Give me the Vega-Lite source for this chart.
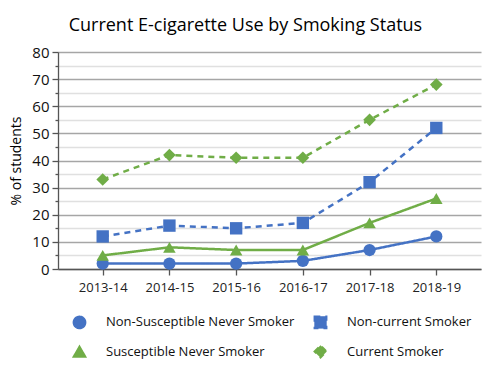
{
  "$schema": "https://vega.github.io/schema/vega-lite/v6.json",
  "autosize": "none",
  "width": 423,
  "height": 217,
  "padding": {"left": 58, "top": 52, "right": 19, "bottom": 99},
  "background": "white",
  "config": {
    "font": "Open Sans",
    "view": {"stroke": null}
  },
  "title": {
    "text": "Current E-cigarette Use by Smoking Status",
    "fontSize": 18,
    "fontWeight": "normal",
    "color": "#000000",
    "font": "Open Sans",
    "anchor": "middle",
    "frame": "bounds",
    "offset": 10
  },
  "data": {
    "values": [
      {"year": "2013-14", "status": "Non-Susceptible Never Smoker", "pct": 2},
      {"year": "2014-15", "status": "Non-Susceptible Never Smoker", "pct": 2},
      {"year": "2015-16", "status": "Non-Susceptible Never Smoker", "pct": 2},
      {"year": "2016-17", "status": "Non-Susceptible Never Smoker", "pct": 3},
      {"year": "2017-18", "status": "Non-Susceptible Never Smoker", "pct": 7},
      {"year": "2018-19", "status": "Non-Susceptible Never Smoker", "pct": 12},
      {"year": "2013-14", "status": "Non-current Smoker", "pct": 12},
      {"year": "2014-15", "status": "Non-current Smoker", "pct": 16},
      {"year": "2015-16", "status": "Non-current Smoker", "pct": 15},
      {"year": "2016-17", "status": "Non-current Smoker", "pct": 17},
      {"year": "2017-18", "status": "Non-current Smoker", "pct": 32},
      {"year": "2018-19", "status": "Non-current Smoker", "pct": 52},
      {"year": "2013-14", "status": "Susceptible Never Smoker", "pct": 5},
      {"year": "2014-15", "status": "Susceptible Never Smoker", "pct": 8},
      {"year": "2015-16", "status": "Susceptible Never Smoker", "pct": 7},
      {"year": "2016-17", "status": "Susceptible Never Smoker", "pct": 7},
      {"year": "2017-18", "status": "Susceptible Never Smoker", "pct": 17},
      {"year": "2018-19", "status": "Susceptible Never Smoker", "pct": 26},
      {"year": "2013-14", "status": "Current Smoker", "pct": 33},
      {"year": "2014-15", "status": "Current Smoker", "pct": 42},
      {"year": "2015-16", "status": "Current Smoker", "pct": 41},
      {"year": "2016-17", "status": "Current Smoker", "pct": 41},
      {"year": "2017-18", "status": "Current Smoker", "pct": 55},
      {"year": "2018-19", "status": "Current Smoker", "pct": 68}
    ]
  },
  "encoding": {
    "x": {
      "field": "year",
      "type": "ordinal",
      "scale": {"type": "point", "padding": 0.67},
      "axis": {
        "title": null,
        "labelAngle": 0,
        "labelFontSize": 13,
        "labelColor": "#222222",
        "labelPadding": 6,
        "domainColor": "#555555",
        "domainWidth": 1.3,
        "tickColor": "#555555",
        "tickSize": 6,
        "tickWidth": 1.3,
        "grid": false
      }
    },
    "y": {
      "field": "pct",
      "type": "quantitative",
      "scale": {"domain": [0, 80], "nice": false},
      "axis": {
        "title": "% of students",
        "titleFontSize": 14,
        "titleFontWeight": "normal",
        "titleColor": "#000000",
        "titlePadding": 8,
        "values": [0, 5, 10, 15, 20, 25, 30, 35, 40, 45, 50, 55, 60, 65, 70, 75, 80],
        "labelExpr": "datum.value % 10 === 0 ? datum.label : ''",
        "labelFontSize": 15,
        "labelColor": "#111111",
        "labelPadding": 3,
        "domainColor": "#555555",
        "domainWidth": 1.3,
        "tickColor": "#555555",
        "tickWidth": 1.3,
        "tickSize": {"condition": {"test": "datum.value % 10 === 0", "value": 6}, "value": 3},
        "grid": true,
        "gridColor": {"condition": {"test": "datum.value % 10 === 0", "value": "#a6a6a6"}, "value": "#e0e0e0"},
        "gridWidth": 1.3
      }
    },
    "color": {
      "field": "status",
      "type": "nominal",
      "scale": {
        "domain": ["Non-Susceptible Never Smoker", "Non-current Smoker", "Susceptible Never Smoker", "Current Smoker"],
        "range": ["#4472C4", "#4472C4", "#70AD47", "#70AD47"]
      },
      "legend": {
        "title": null,
        "orient": "none",
        "legendX": 14,
        "legendY": 263,
        "direction": "horizontal",
        "columns": 2,
        "labelFontSize": 13,
        "labelColor": "#111111",
        "symbolSize": 130,
        "columnPadding": 16,
        "rowPadding": 10,
        "labelOffset": 19,
        "symbolOpacity": 1,
        "labelLimit": 300
      }
    }
  },
  "layer": [
    {
      "mark": {"type": "line", "strokeWidth": 2.5},
      "encoding": {
        "strokeDash": {
          "field": "status",
          "type": "nominal",
          "scale": {
            "domain": ["Non-Susceptible Never Smoker", "Non-current Smoker", "Susceptible Never Smoker", "Current Smoker"],
            "range": [[1, 0], [6, 5], [1, 0], [6, 5]]
          },
          "legend": null
        }
      }
    },
    {
      "mark": {"type": "point", "filled": true, "opacity": 1},
      "encoding": {
        "shape": {
          "field": "status",
          "type": "nominal",
          "scale": {
            "domain": ["Non-Susceptible Never Smoker", "Non-current Smoker", "Susceptible Never Smoker", "Current Smoker"],
            "range": ["circle", "square", "triangle-up", "diamond"]
          }
        },
        "size": {
          "field": "status",
          "type": "nominal",
          "scale": {
            "domain": ["Non-Susceptible Never Smoker", "Non-current Smoker", "Susceptible Never Smoker", "Current Smoker"],
            "range": [150, 160, 130, 90]
          },
          "legend": null
        }
      }
    }
  ]
}
